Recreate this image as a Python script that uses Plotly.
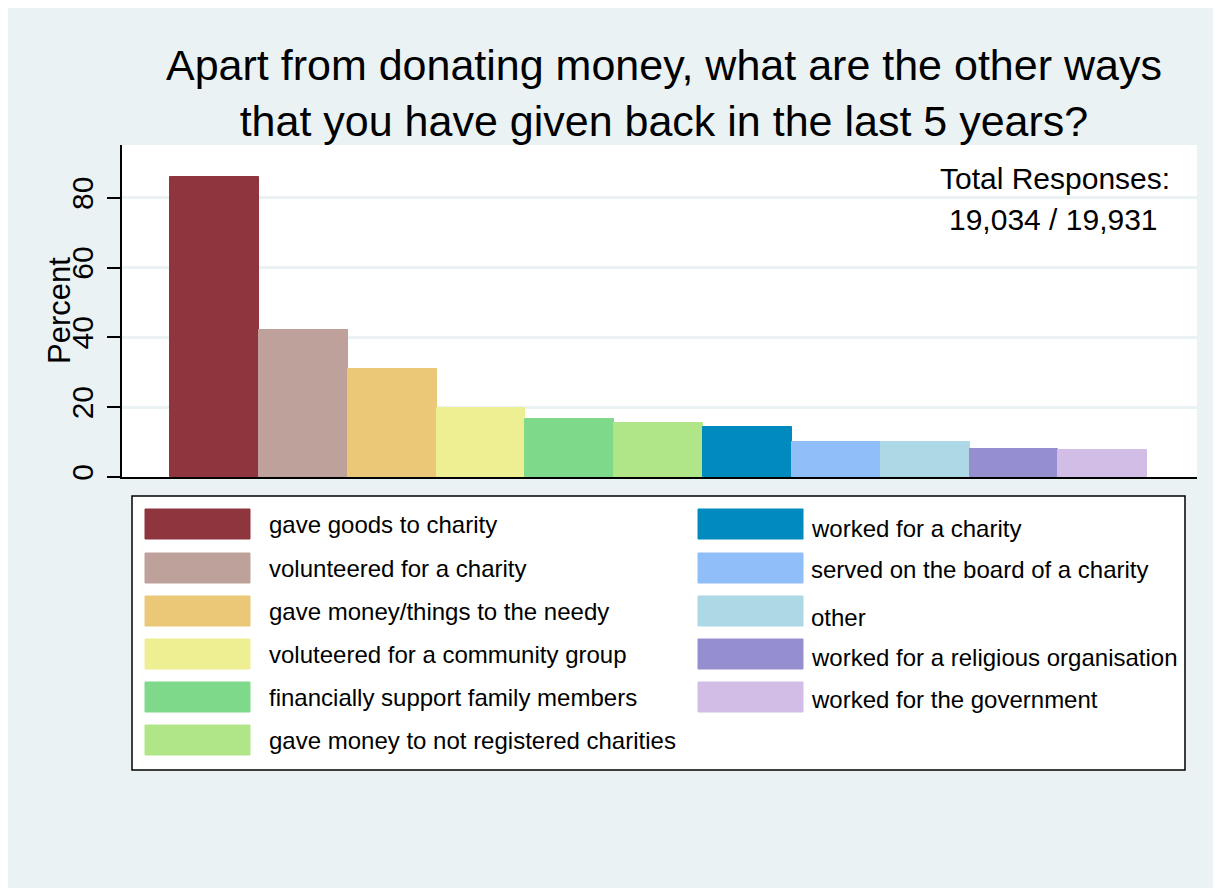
import plotly.graph_objects as go

# data
categories = [
    "gave goods to charity",
    "volunteered for a charity",
    "gave money/things to the needy",
    "voluteered for a community group",
    "financially support family members",
    "gave money to not registered charities",
    "worked for a charity",
    "served on the board of a charity",
    "other",
    "worked for a religious organisation",
    "worked for the government",
]
percent = [86.0, 42.1, 31.0, 19.7, 16.5, 15.4, 14.2, 9.9, 9.9, 7.9, 7.7]
colors = [
    "#8E353D", "#BDA19A", "#EBC878", "#EEEE92", "#7FD98A", "#B1E688",
    "#008ABE", "#90BEF8", "#ADD8E6", "#958FD0", "#D1BDE6",
]
y_ticks = [0, 20, 40, 60, 80]

FONT = "Liberation Sans, Arial, sans-serif"
BG = "#EAF2F3"

# page offset (body margin) and plot area, in screenshot pixels
OFF = 8
L, R, T, B = 122, 1197, 145, 477
W, H = 1221, 888


def px_x(px):
    return (px - L) / (R - L)


def px_y(py):
    return (B - py) / (B - T)


fig = go.Figure()
fig.add_trace(go.Bar(
    x=categories,
    y=percent,
    width=1,
    marker=dict(color=colors, line=dict(color=colors, width=1)),
    showlegend=False,
    hovertemplate="%{x}: %{y:.1f}%<extra></extra>",
))

shapes = []
annotations = []

# legend box
shapes.append(dict(type="rect", xref="paper", yref="paper",
                   x0=px_x(132), x1=px_x(1185), y0=px_y(770), y1=px_y(496),
                   fillcolor="white", line=dict(color="black", width=1.5)))

left_rows = [524, 568, 611, 654, 697, 740]
right_rows = [524, 568, 611, 654, 697]
right_text_rows = [528, 569, 617, 657, 699]
for i, (name, col) in enumerate(zip(categories, colors)):
    if i < 6:
        sx0, sx1, cy, ty, tx = 145, 250, left_rows[i], left_rows[i], 267
    else:
        j = i - 6
        sx0, sx1, cy, ty, tx = 698, 803, right_rows[j], right_text_rows[j], 809
    shapes.append(dict(type="rect", xref="paper", yref="paper",
                       x0=px_x(sx0), x1=px_x(sx1),
                       y0=px_y(cy + 15), y1=px_y(cy - 15),
                       fillcolor=col, line=dict(color=col, width=1)))
    annotations.append(dict(xref="paper", yref="paper", x=px_x(tx), y=px_y(ty),
                            xanchor="left", yanchor="middle", showarrow=False,
                            text=name, font=dict(size=24, color="black", family=FONT)))

# title
annotations.append(dict(
    xref="paper", yref="paper", x=px_x(664), y=px_y(93),
    xanchor="center", yanchor="middle", showarrow=False,
    text="Apart from donating money, what are the other ways<br>that you have given back in the last 5 years?",
    font=dict(size=43, color="black", family=FONT),
))

# total responses note
annotations.append(dict(xref="paper", yref="paper", x=px_x(1055), y=px_y(178),
                        xanchor="center", yanchor="middle", showarrow=False,
                        text="Total Responses:",
                        font=dict(size=30, color="black", family=FONT)))
annotations.append(dict(xref="paper", yref="paper", x=px_x(1053), y=px_y(219),
                        xanchor="center", yanchor="middle", showarrow=False,
                        text="19,034 / 19,931",
                        font=dict(size=30, color="black", family=FONT)))

# y axis title
annotations.append(dict(xref="paper", yref="paper", x=px_x(59), y=px_y(311),
                        xanchor="center", yanchor="middle", showarrow=False,
                        text="Percent", textangle=-90,
                        font=dict(size=31, color="black", family=FONT)))

fig.update_layout(
    width=W,
    height=H,
    margin=dict(l=L - OFF, r=W - (R - OFF), t=T - OFF, b=H - (B - OFF), pad=0),
    paper_bgcolor=BG,
    plot_bgcolor="white",
    font=dict(family=FONT, color="black"),
    bargap=0,
    shapes=shapes,
    annotations=annotations,
    xaxis=dict(
        range=[-1.04, 11.06],
        showticklabels=False,
        ticks="",
        showgrid=False,
        zeroline=False,
        showline=True,
        linecolor="black",
        linewidth=2,
        fixedrange=True,
    ),
    yaxis=dict(
        range=[0, 95.1],
        tickvals=y_ticks,
        ticktext=[str(v) for v in y_ticks],
        tickangle=-90,
        tickfont=dict(size=30, color="black", family=FONT),
        ticks="outside",
        ticklen=13,
        tickwidth=1.5,
        tickcolor="black",
        ticklabelstandoff=2,
        showgrid=True,
        gridcolor=BG,
        gridwidth=2.5,
        zeroline=False,
        showline=True,
        linecolor="black",
        linewidth=1.5,
        fixedrange=True,
    ),
)

fig.write_html("out.html")
